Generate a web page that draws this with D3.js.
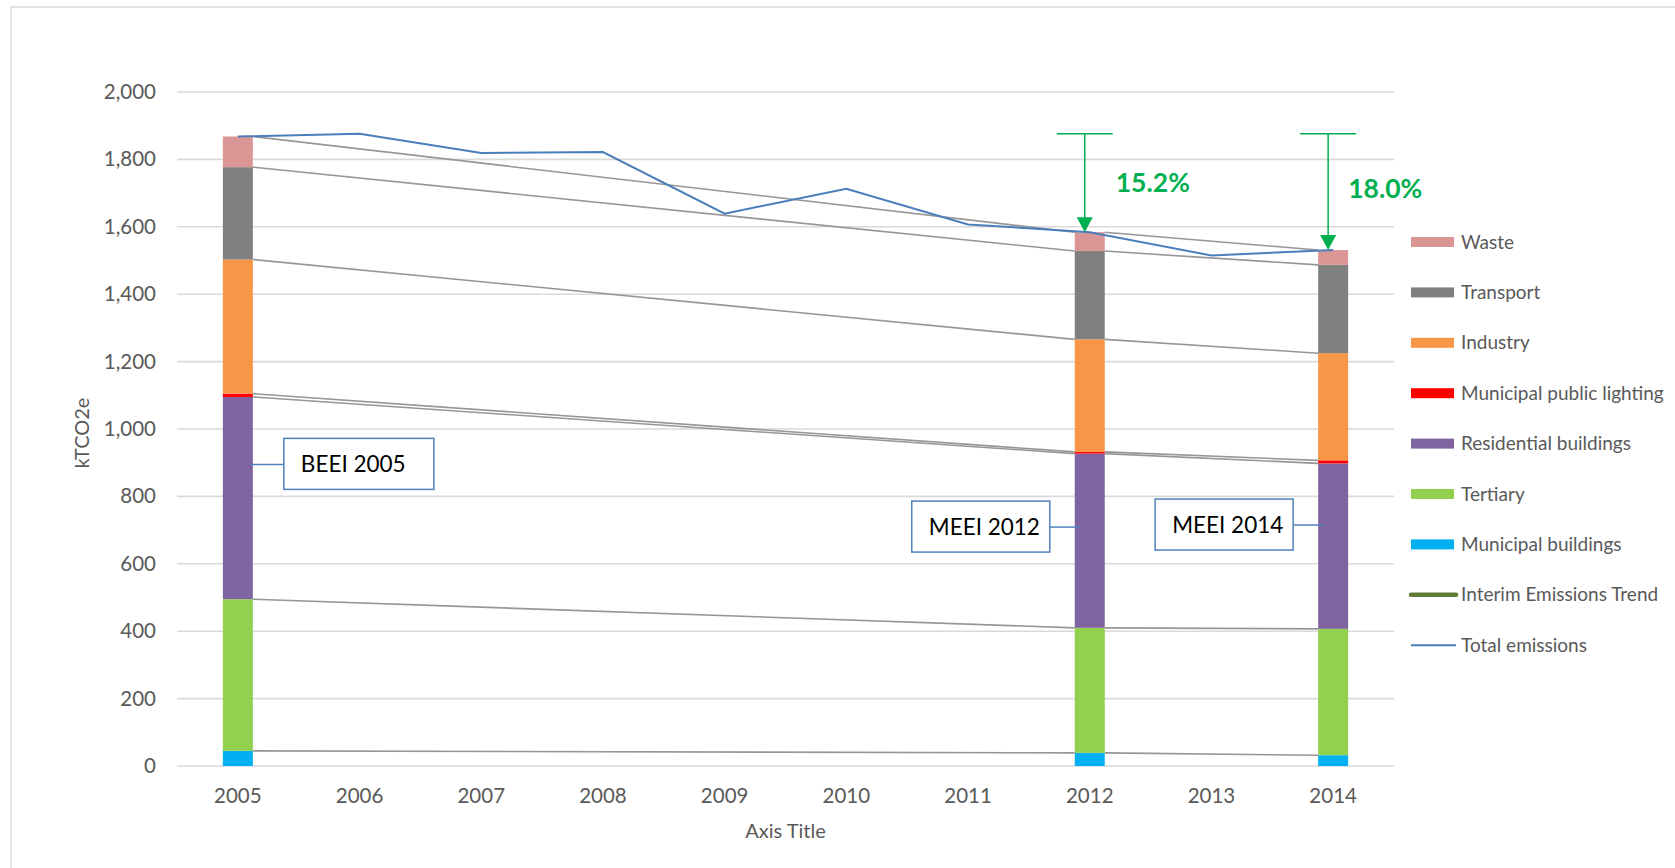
<!DOCTYPE html>
<html>
<head>
<meta charset="utf-8">
<script src="https://cdn.jsdelivr.net/npm/d3@7"></script>
<style>
  body { margin: 0; background: #fff; }
  svg { display: block; font-family: Lato, "Open Sans", sans-serif; }
</style>
</head>
<body>
<svg id="chart" width="1675" height="868"></svg>
<script>
// ---- data (kTCO2e) ----
const years = [2005, 2006, 2007, 2008, 2009, 2010, 2011, 2012, 2013, 2014];

// stacked sectors, bottom to top; null = no inventory that year
const municipalBuildings = [45, null, null, null, null, null, null, 39, null, 32];
const tertiary           = [450, null, null, null, null, null, null, 371, null, 375];
const residential        = [600, null, null, null, null, null, null, 517, null, 491];
const publicLighting     = [10, null, null, null, null, null, null, 5, null, 9];
const industry           = [398, null, null, null, null, null, null, 334, null, 318];
const transport          = [274, null, null, null, null, null, null, 262, null, 262];
const waste              = [91, null, null, null, null, null, null, 56, null, 44];

const totalEmissions = [1868, 1876, 1819, 1822, 1639, 1713, 1607, 1584, 1515, 1531];

const sectorNames  = ["Municipal buildings", "Tertiary", "Residential buildings",
                      "Municipal public lighting", "Industry", "Transport", "Waste"];
const sectorColors = ["#00B0F0", "#92D050", "#8064A2", "#FF0000", "#F79646", "#808080", "#DA9694"];

const yTicks = [0, 200, 400, 600, 800, 1000, 1200, 1400, 1600, 1800, 2000];

// inventory callouts and reductions vs 2005
const calloutYears  = [2005, 2012, 2014];
const calloutLabels = ["BEEI 2005", "MEEI 2012", "MEEI 2014"];
const calloutValues = [895, 709, 715];
const reductionYears  = [2012, 2014];
const reductionLabels = ["15.2%", "18.0%"];
const reductionFrom   = 1876;

// ---- setup ----
const svg = d3.select("#chart");
const plot = { left: 177, right: 1394, top: 92, bottom: 766 };
const textGrey = "#595959";

svg.append("rect")
    .attr("x", 11).attr("y", 7)
    .attr("width", 1700).attr("height", 900)
    .attr("fill", "#fff")
    .attr("stroke", "#D9D9D9").attr("stroke-width", 1.5);

const x = d3.scaleBand().domain(years).range([plot.left, plot.right]);
const y = d3.scaleLinear().domain([0, 2000]).range([plot.bottom, plot.top]);
const barW = 30;
const cx = yr => x(yr) + x.bandwidth() / 2;

// gridlines
svg.append("g")
    .selectAll("line")
    .data(yTicks)
    .join("line")
    .attr("x1", plot.left).attr("x2", plot.right)
    .attr("y1", d => y(d)).attr("y2", d => y(d))
    .attr("stroke", "#D9D9D9").attr("stroke-width", 1.6);

// y axis labels
const yAxis = svg.append("g")
    .attr("transform", `translate(${plot.left}, 0)`)
    .call(d3.axisLeft(y).tickValues(yTicks).tickFormat(d3.format(",")).tickSize(0).tickPadding(21));
yAxis.select(".domain").remove();
yAxis.selectAll("text")
    .attr("fill", textGrey)
    .style("font-size", "20.5px")
    .style("font-family", "Lato, sans-serif");

// x axis labels
const xAxis = svg.append("g")
    .attr("transform", `translate(0, ${plot.bottom})`)
    .call(d3.axisBottom(x).tickSize(0).tickPadding(22));
xAxis.select(".domain").remove();
xAxis.selectAll("text")
    .attr("fill", textGrey)
    .style("font-size", "20.5px")
    .style("font-family", "Lato, sans-serif");

// axis titles
svg.append("text")
    .attr("x", (plot.left + plot.right) / 2).attr("y", 838)
    .attr("text-anchor", "middle")
    .attr("fill", textGrey).style("font-size", "20px")
    .text("Axis Title");

svg.append("text")
    .attr("transform", "translate(89, 433) rotate(-90)")
    .attr("text-anchor", "middle")
    .attr("fill", textGrey).style("font-size", "20px")
    .text("kTCO2e");

// ---- stacked bars ----
const sectorSeries = [municipalBuildings, tertiary, residential, publicLighting, industry, transport, waste];
const rows = years.map((yr, i) => {
    const row = { year: yr };
    sectorNames.forEach((n, k) => { row[n] = sectorSeries[k][i]; });
    return row;
});
const barRows = rows.filter(r => r[sectorNames[0]] !== null);
const stacked = d3.stack().keys(sectorNames)(barRows);

// series lines between neighbouring bars
const seriesLines = svg.append("g");
stacked.forEach(layer => {
    for (let i = 0; i < layer.length - 1; i++) {
        const a = layer[i], b = layer[i + 1];
        seriesLines.append("line")
            .attr("x1", cx(a.data.year) + barW / 2).attr("y1", y(a[1]))
            .attr("x2", cx(b.data.year) - barW / 2).attr("y2", y(b[1]))
            .attr("stroke", "#969696").attr("stroke-width", 1.6);
    }
});

svg.append("g")
    .selectAll("g")
    .data(stacked)
    .join("g")
    .attr("fill", (d, i) => sectorColors[i])
    .selectAll("rect")
    .data(d => d)
    .join("rect")
    .attr("x", d => cx(d.data.year) - barW / 2)
    .attr("width", barW)
    .attr("y", d => y(d[1]))
    .attr("height", d => y(d[0]) - y(d[1]));

// ---- total emissions line ----
svg.append("path")
    .datum(years.map((yr, i) => [yr, totalEmissions[i]]))
    .attr("fill", "none")
    .attr("stroke", "#4A7EBB").attr("stroke-width", 2)
    .attr("d", d3.line().x(d => cx(d[0])).y(d => y(d[1])));

// ---- reduction arrows ----
const green = "#00B050";
const labelDx = [26, 15];
reductionYears.forEach((yr, i) => {
    const ax = cx(yr) - 5;
    const yTop = y(reductionFrom);
    const yTip = y(totalEmissions[years.indexOf(yr)]);
    const g = svg.append("g");
    g.append("line")
        .attr("x1", ax - 28).attr("x2", ax + 28)
        .attr("y1", yTop).attr("y2", yTop)
        .attr("stroke", green).attr("stroke-width", 1.5);
    g.append("line")
        .attr("x1", ax).attr("x2", ax)
        .attr("y1", yTop).attr("y2", yTip - 14)
        .attr("stroke", green).attr("stroke-width", 1.5);
    g.append("path")
        .attr("d", `M${ax - 8},${yTip - 15} L${ax + 8},${yTip - 15} L${ax},${yTip} Z`)
        .attr("fill", green);
    g.append("text")
        .attr("x", cx(yr) + labelDx[i]).attr("y", yTop + 58 + i * 6)
        .attr("fill", green)
        .style("font-size", "26.5px").style("font-weight", "bold")
        .text(reductionLabels[i]);
});

// ---- callouts ----
const boxBlue = "#4F81BD";
calloutYears.forEach((yr, i) => {
    const cy = y(calloutValues[i]);
    const right = i === 0;
    const boxW = right ? 150 : 138, boxH = 51;
    const bx = right ? cx(yr) + 46 : cx(yr) - 40 - boxW;
    const endX = right ? cx(yr) + 12 : cx(yr) - 9;
    const g = svg.append("g");
    g.append("line")
        .attr("x1", right ? bx : bx + boxW).attr("x2", endX)
        .attr("y1", cy).attr("y2", cy)
        .attr("stroke", boxBlue).attr("stroke-width", 1.5);
    g.append("rect")
        .attr("x", bx).attr("y", cy - 26)
        .attr("width", boxW).attr("height", boxH)
        .attr("fill", "#fff")
        .attr("stroke", boxBlue).attr("stroke-width", 1.5);
    g.append("text")
        .attr("x", bx + 17).attr("y", cy + 8)
        .attr("fill", "#000")
        .style("font-size", "22.5px")
        .text(calloutLabels[i]);
});

// ---- legend ----
const legendItems = sectorNames.map((n, i) => ({ name: n, color: sectorColors[i], type: "rect" })).reverse()
    .concat([
        { name: "Interim Emissions Trend", color: "#5E7A34", type: "thick" },
        { name: "Total emissions", color: "#4A7EBB", type: "line" }
    ]);

const legend = svg.append("g").attr("transform", "translate(1411, 242)");
const li = legend.selectAll("g")
    .data(legendItems)
    .join("g")
    .attr("transform", (d, i) => `translate(0, ${i * 50.4})`);

li.filter(d => d.type === "rect").append("rect")
    .attr("x", 0).attr("y", -5).attr("width", 43).attr("height", 10)
    .attr("fill", d => d.color);
li.filter(d => d.type === "thick").append("line")
    .attr("x1", 0).attr("x2", 45).attr("y1", 0).attr("y2", 0)
    .attr("stroke", d => d.color).attr("stroke-width", 4.5).attr("stroke-linecap", "round");
li.filter(d => d.type === "line").append("line")
    .attr("x1", 0).attr("x2", 45).attr("y1", 0).attr("y2", 0)
    .attr("stroke", d => d.color).attr("stroke-width", 2);
li.append("text")
    .attr("x", 50).attr("y", 6.5)
    .attr("fill", textGrey)
    .style("font-size", "19px")
    .text(d => d.name);
</script>
</body>
</html>
